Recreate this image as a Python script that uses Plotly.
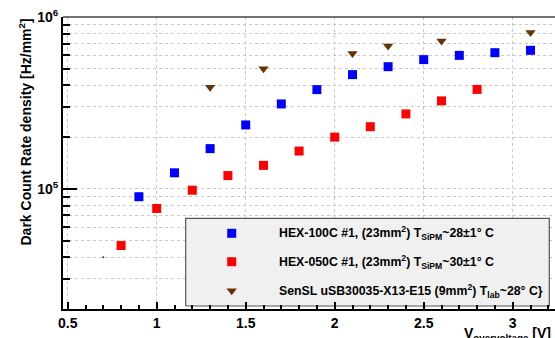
import plotly.graph_objects as go

# ---- data ----
hex100_x = [0.9, 1.1, 1.3, 1.5, 1.7, 1.9, 2.1, 2.3, 2.5, 2.7, 2.9, 3.1]
hex100_y = [9.0e4, 1.24e5, 1.715e5, 2.355e5, 3.12e5, 3.78e5, 4.62e5, 5.14e5, 5.65e5, 5.98e5, 6.2e5, 6.4e5]
hex050_x = [0.8, 1.0, 1.2, 1.4, 1.6, 1.8, 2.0, 2.2, 2.4, 2.6, 2.8]
hex050_y = [4.68e4, 7.69e4, 9.82e4, 1.195e5, 1.37e5, 1.66e5, 2.0e5, 2.30e5, 2.73e5, 3.25e5, 3.79e5]
sensl_x = [1.3, 1.6, 2.1, 2.3, 2.6, 3.1]
sensl_y = [3.9e5, 5.0e5, 6.14e5, 6.78e5, 7.25e5, 8.13e5]
stray_x = [0.7]
stray_y = [4.0e4]

labels = [
    "HEX-100C #1, (23mm<sup>2</sup>) T<sub>SiPM</sub>~28±1° C",
    "HEX-050C #1, (23mm<sup>2</sup>) T<sub>SiPM</sub>~30±1° C",
    "SenSL uSB30035-X13-E15 (9mm<sup>2</sup>) T<sub>lab</sub>~28° C}",
]
colors = ["#0000ff", "#ff0000", "#663300"]
symbols = ["square", "square", "triangle-down"]

x_ticks = [0.5, 1, 1.5, 2, 2.5, 3]
x_ticktext = ["0.5", "1", "1.5", "2", "2.5", "3"]
x_minor = [round(0.5 + 0.1 * i, 2) for i in range(28)]
y_ticks = [1e5, 1e6]
y_ticktext = ["10<sup>5</sup>", "10<sup>6</sup>"]
y_minor = [m * 1e4 for m in range(2, 10)] + [m * 1e5 for m in range(2, 10)]

W, H = 555, 338
L, R, T, B = 63, 0, 17, 29
PW, PH = W - L - R, H - T - B

def px(xpix):
    return (xpix - L) / PW

def py(ypix):
    return (H - B - ypix) / PH

FONT = "Liberation Sans"

fig = go.Figure()

series = [(hex100_x, hex100_y), (hex050_x, hex050_y), (sensl_x, sensl_y)]
for (xs, ys), c, s, lab in zip(series, colors, symbols, labels):
    fig.add_trace(go.Scatter(x=xs, y=ys, mode="markers", name=lab,
                             marker=dict(symbol=s, size=9, color=c, line=dict(width=0)),
                             showlegend=False))
fig.add_trace(go.Scatter(x=stray_x, y=stray_y, mode="markers",
                         marker=dict(size=2, color="#333333"), showlegend=False))

# legend box on overlay axes (paper-like 0..1)
bx0, bx1, by0, by1 = px(185.7), px(549.3), py(306), py(218.3)
fig.add_trace(go.Scatter(x=[bx0, bx1, bx1, bx0, bx0], y=[by0, by0, by1, by1, by0],
                         xaxis="x2", yaxis="y2", mode="lines", fill="toself",
                         fillcolor="#f0f0f0", line=dict(color="#555555", width=1.2),
                         showlegend=False, hoverinfo="skip"))
rows = [233.3, 261.7, 290.7]
for r, c, s in zip(rows, colors, symbols):
    fig.add_trace(go.Scatter(x=[px(231.7)], y=[py(r)], xaxis="x2", yaxis="y2",
                             mode="markers", marker=dict(symbol=s, size=9, color=c, line=dict(width=0)),
                             showlegend=False, hoverinfo="skip"))

annotations = []
for r, lab in zip(rows, labels):
    annotations.append(dict(x=px(276.7), y=py(r), xref="paper", yref="paper",
                            text=lab, showarrow=False, xanchor="left", yanchor="middle",
                            font=dict(family=FONT, size=12.3, color="black", weight="bold")))
annotations.append(dict(x=px(553), y=py(323), xref="paper", yref="paper",
                        text="V<sub>overvoltage</sub> [V]", showarrow=False,
                        xanchor="right", yanchor="top",
                        font=dict(family=FONT, size=14, color="black", weight="bold")))
annotations.append(dict(x=px(25), y=py(17), xref="paper", yref="paper",
                        text="Dark Count Rate density [Hz/mm<sup>2</sup>]", showarrow=False,
                        textangle=-90, xanchor="center", yanchor="top",
                        font=dict(family=FONT, size=14, color="black", weight="bold")))

xr0 = 0.5 - (67.7 - L) / 178.0
xr1 = xr0 + PW / 178.0

fig.update_layout(
    width=W, height=H, margin=dict(l=L, r=R, t=T, b=B),
    paper_bgcolor="white", plot_bgcolor="white",
    annotations=annotations,
    xaxis=dict(range=[xr0, xr1], tickmode="array", tickvals=x_ticks, ticktext=x_ticktext,
               ticks="inside", ticklen=7, tickwidth=1.5, tickcolor="black",
               showline=True, linecolor="black", linewidth=2, mirror=False,
               showgrid=True, gridcolor="#c8c8c8", griddash="dot", gridwidth=1,
               zeroline=False,
               tickfont=dict(family=FONT, size=14, color="black", weight="bold"),
               minor=dict(tickmode="array", tickvals=x_minor, ticks="inside", ticklen=4,
                          tickwidth=1.5, tickcolor="black", showgrid=False)),
    yaxis=dict(type="log", range=[4.30103, 6.0], tickmode="array", tickvals=y_ticks,
               ticktext=y_ticktext, ticks="inside", ticklen=14, tickwidth=1.5, tickcolor="black",
               showline=True, linecolor="black", linewidth=2,
               showgrid=True, gridcolor="#c8c8c8", griddash="dot", gridwidth=1,
               zeroline=False,
               tickfont=dict(family=FONT, size=14, color="black", weight="bold"),
               minor=dict(tickmode="array", tickvals=y_minor, ticks="inside", ticklen=7,
                          tickwidth=1.5, tickcolor="black", showgrid=True,
                          gridcolor="#c8c8c8", griddash="dot", gridwidth=1)),
    xaxis2=dict(range=[0, 1], overlaying="x", visible=False, fixedrange=True),
    yaxis2=dict(range=[0, 1], overlaying="y", visible=False, fixedrange=True),
    shapes=[dict(type="line", xref="paper", yref="paper", x0=0, x1=1, y0=1, y1=1,
                 line=dict(color="#444444", width=1.5))],
)

fig.write_html("out.html")
